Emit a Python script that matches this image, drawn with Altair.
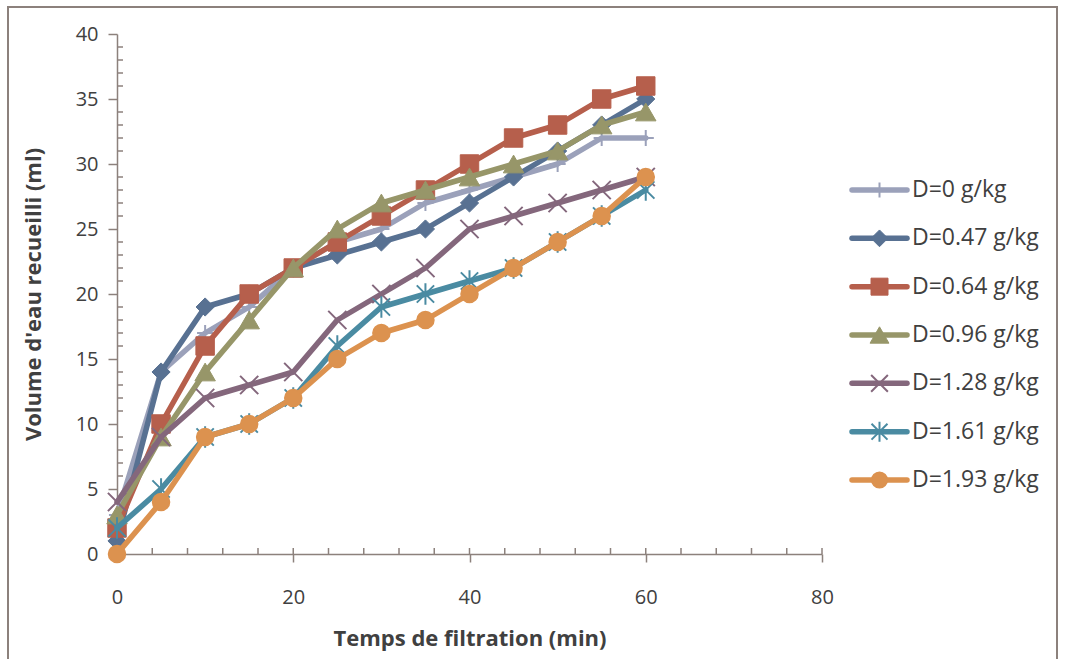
import altair as alt
import pandas as pd

# ---- data ----
TIME = [0, 5, 10, 15, 20, 25, 30, 35, 40, 45, 50, 55, 60]
SERIES = ["D=0 g/kg", "D=0.47 g/kg", "D=0.64 g/kg", "D=0.96 g/kg",
          "D=1.28 g/kg", "D=1.61 g/kg", "D=1.93 g/kg"]
V_D000 = [3, 14, 17, 19, 22, 24, 25, 27, 28, 29, 30, 32, 32]
V_D047 = [1, 14, 19, 20, 22, 23, 24, 25, 27, 29, 31, 33, 35]
V_D064 = [2, 10, 16, 20, 22, 24, 26, 28, 30, 32, 33, 35, 36]
V_D096 = [3, 9, 14, 18, 22, 25, 27, 28, 29, 30, 31, 33, 34]
V_D128 = [4, 9, 12, 13, 14, 18, 20, 22, 25, 26, 27, 28, 29]
V_D161 = [2, 5, 9, 10, 12, 16, 19, 20, 21, 22, 24, 26, 28]
V_D193 = [0, 4, 9, 10, 12, 15, 17, 18, 20, 22, 24, 26, 29]
VALUES = [V_D000, V_D047, V_D064, V_D096, V_D128, V_D161, V_D193]

X_TICKS = [0, 20, 40, 60, 80]
Y_TICKS = [0, 5, 10, 15, 20, 25, 30, 35, 40]
X_MINOR = list(range(0, 81, 4))
Y_MINOR = [v for v in range(1, 40) if v % 5 != 0]

# ---- styles ----
COLORS = ["#9ba1ba", "#587192", "#b65f4c", "#979669", "#84677c", "#4a8ba2", "#dc924f"]
PLUS = "M-1,0H1M0,-1V1"
XMARK = "M-1,-1L1,1M1,-1L-1,1"
ASTER = "M-1,-1L1,1M1,-1L-1,1M0,-1.25V1.25"
SHAPES = [PLUS, "diamond", "square", "triangle-up", XMARK, ASTER, "circle"]
SIZES = [260, 330, 340, 420, 330, 300, 290]
SWIDTHS = [2, 1, 1, 1, 2, 2, 1.5]

AXIS_COLOR = "#8c817c"
TEXT_COLOR = "#404040"
FONT = "Open Sans"
W, H = 705, 520

rows = []
for s, vals in zip(SERIES, VALUES):
    for t, v in zip(TIME, vals):
        rows.append({"series": s, "t": t, "v": v})
df = pd.DataFrame(rows)

xs = alt.Scale(domain=[0, 80], nice=False)
ys = alt.Scale(domain=[0, 40], nice=False)

x_enc = alt.X("t:Q", scale=xs, axis=alt.Axis(
    values=X_TICKS, tickSize=8, labelPadding=25, labelFlush=False,
    title="Temps de filtration (min)", titlePadding=21, grid=False))
y_enc = alt.Y("v:Q", scale=ys, axis=alt.Axis(
    values=Y_TICKS, tickSize=9, labelPadding=10, labelFlush=False,
    title="Volume d'eau recueilli (ml)", titlePadding=30, grid=False))

layers = []
for i, s in enumerate(SERIES):
    base = alt.Chart(df).transform_filter(alt.datum.series == s)
    if i == 0:
        enc = dict(x=x_enc, y=y_enc)
    else:
        enc = dict(x=alt.X("t:Q", scale=xs), y=alt.Y("v:Q", scale=ys))
    line = base.mark_line(color=COLORS[i], strokeWidth=5.5, strokeJoin="round",
                          strokeCap="round", clip=False).encode(**enc)
    pts = base.mark_point(shape=SHAPES[i], size=SIZES[i], filled=True,
                          fill=COLORS[i], stroke=COLORS[i], strokeWidth=SWIDTHS[i],
                          opacity=1, clip=False).encode(**enc)
    layers += [line, pts]

ytick_df = pd.DataFrame({"v": Y_MINOR})
xtick_df = pd.DataFrame({"t": X_MINOR})
ytick = alt.Chart(ytick_df).mark_rule(color=AXIS_COLOR, strokeWidth=1.5).encode(
    y=alt.Y("v:Q", scale=ys), x=alt.value(0), x2=alt.value(6))
xtick = alt.Chart(xtick_df).mark_rule(color=AXIS_COLOR, strokeWidth=1.5).encode(
    x=alt.X("t:Q", scale=xs), y=alt.value(H), y2=alt.value(H - 6))

main = alt.layer(ytick, xtick, *layers)

# ---- manual legend ----
leg_df = pd.DataFrame({
    "series": SERIES,
    "idx": list(range(len(SERIES))),
    "x0": [0] * len(SERIES),
    "x1": [1] * len(SERIES),
    "xm": [0.5] * len(SERIES),
})
lx = alt.Scale(domain=[0, 1], range=[735, 790])
ly = alt.Scale(domain=[0, 6], range=[156, 446])
col = alt.Color("series:N", scale=alt.Scale(domain=SERIES, range=COLORS), legend=None)
leg_rule = alt.Chart(leg_df).mark_rule(strokeWidth=5.5, strokeCap="round").encode(
    x=alt.X("x0:Q", scale=lx, axis=None), x2="x1:Q",
    y=alt.Y("idx:Q", scale=ly, axis=None), color=col)
leg_pts = []
for i, s in enumerate(SERIES):
    leg_pts.append(alt.Chart(leg_df).transform_filter(alt.datum.series == s).mark_point(
        shape=SHAPES[i], size=SIZES[i] * 0.85, filled=True, fill=COLORS[i],
        stroke=COLORS[i], strokeWidth=SWIDTHS[i], opacity=1).encode(
        x=alt.X("xm:Q", scale=lx, axis=None), y=alt.Y("idx:Q", scale=ly, axis=None)))
leg_text = alt.Chart(leg_df).mark_text(align="left", baseline="middle", dx=5,
                                       fontSize=23, font=FONT, color=TEXT_COLOR).encode(
    x=alt.X("x1:Q", scale=lx, axis=None), y=alt.Y("idx:Q", scale=ly, axis=None),
    text="series:N")
frame = alt.Chart(leg_df).mark_rect(fill=None, stroke=AXIS_COLOR, strokeWidth=2).encode(
    x=alt.value(-109), x2=alt.value(940), y=alt.value(-27), y2=alt.value(660))
legend = alt.layer(leg_rule, *leg_pts, leg_text, frame)

chart = alt.layer(main, legend).resolve_scale(
    x="independent", y="independent", color="independent"
).properties(
    width=W, height=H,
    autosize=alt.AutoSizeParams(type="none"),
    padding={"left": 117, "top": 34, "right": 1066 - 117 - W, "bottom": 659 - 34 - H},
    background="white",
).configure_view(stroke=None).configure_axis(
    domainColor=AXIS_COLOR, domainWidth=1.5, tickColor=AXIS_COLOR, tickWidth=1.5,
    labelFont=FONT, labelFontSize=20, labelColor=TEXT_COLOR,
    titleFont=FONT, titleFontSize=22, titleFontWeight="bold", titleColor=TEXT_COLOR,
)

chart.save("out.html", embed_options={"renderer": "svg", "actions": False})
